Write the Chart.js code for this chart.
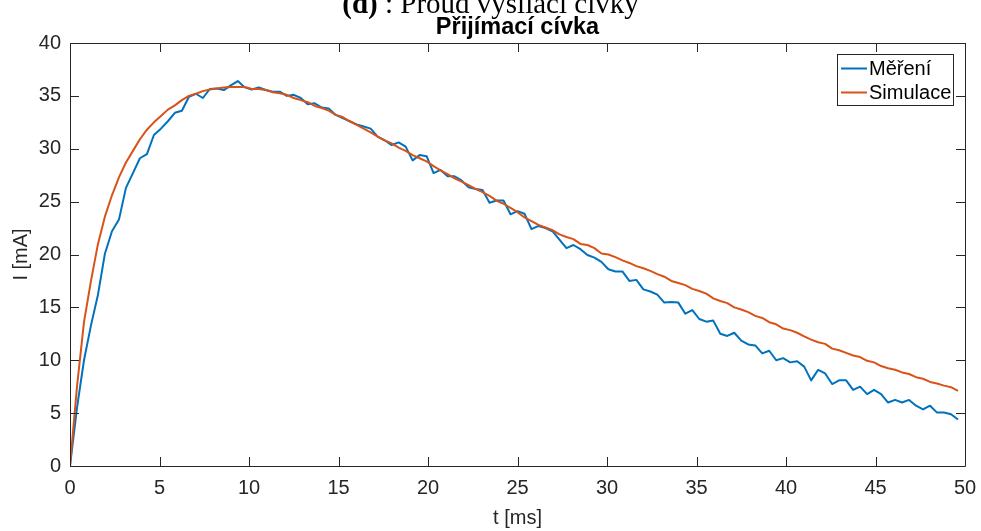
<!DOCTYPE html>
<html>
<head>
<meta charset="utf-8">
<script src="https://cdn.jsdelivr.net/npm/chart.js@4.4.1/dist/chart.umd.min.js"></script>
<style>
html,body{margin:0;padding:0;background:#ffffff;}
#wrap{width:981px;height:531px;position:relative;}
</style>
</head>
<body>
<div id="wrap"><canvas id="c" width="981" height="531"></canvas></div>
<script>
// ---- data ----
const figureTitleBold = '(d)';
const figureTitleRest = ' : Proud vysílací cívky';
const axesTitle = 'Přijímací cívka';
const xLabel = 't [ms]';
const yLabel = 'I [mA]';
const seriesNames = ['Měření', 'Simulace'];
const xTicks = [0, 5, 10, 15, 20, 25, 30, 35, 40, 45, 50];
const yTicks = [0, 5, 10, 15, 20, 25, 30, 35, 40];

const timeMs = [
  0, 0.3906, 0.7813, 1.1719, 1.5625, 1.9531, 2.3438, 2.7344, 3.125, 3.5156,
  3.9063, 4.2969, 4.6875, 5.0781, 5.4688, 5.8594, 6.25, 6.6406, 7.0313, 7.4219,
  7.8125, 8.2031, 8.5938, 8.9844, 9.375, 9.7656, 10.1563, 10.5469, 10.9375, 11.3281,
  11.7188, 12.1094, 12.5, 12.8906, 13.2813, 13.6719, 14.0625, 14.4531, 14.8438, 15.2344,
  15.625, 16.0156, 16.4063, 16.7969, 17.1875, 17.5781, 17.9688, 18.3594, 18.75, 19.1406,
  19.5313, 19.9219, 20.3125, 20.7031, 21.0938, 21.4844, 21.875, 22.2656, 22.6563, 23.0469,
  23.4375, 23.8281, 24.2188, 24.6094, 25.0, 25.3906, 25.7813, 26.1719, 26.5625, 26.9531,
  27.3438, 27.7344, 28.125, 28.5156, 28.9063, 29.2969, 29.6875, 30.0781, 30.4688, 30.8594,
  31.25, 31.6406, 32.0313, 32.4219, 32.8125, 33.2031, 33.5938, 33.9844, 34.375, 34.7656,
  35.1563, 35.5469, 35.9375, 36.3281, 36.7188, 37.1094, 37.5, 37.8906, 38.2813, 38.6719,
  39.0625, 39.4531, 39.8438, 40.2344, 40.625, 41.0156, 41.4063, 41.7969, 42.1875, 42.5781,
  42.9688, 43.3594, 43.75, 44.1406, 44.5313, 44.9219, 45.3125, 45.7031, 46.0938, 46.4844,
  46.875, 47.2656, 47.6563, 48.0469, 48.4375, 48.8281, 49.2188, 49.6094
];

const mereni = [
  0, 5.5, 10.0, 13.3, 16.2, 20.1, 22.2, 23.3, 26.3, 27.7,
  29.1, 29.5, 31.3, 31.9, 32.6, 33.4, 33.6, 34.9, 35.2, 34.8,
  35.65, 35.7, 35.55, 36.0, 36.4, 35.8, 35.6, 35.8, 35.55, 35.4,
  35.4, 35.0, 35.1, 34.8, 34.2, 34.3, 33.9, 33.8, 33.2, 32.9,
  32.6, 32.3, 32.1, 31.9, 31.15, 30.8, 30.35, 30.6, 30.2, 28.9,
  29.4, 29.3, 27.7, 28.0, 27.4, 27.4, 27.0, 26.35, 26.2, 26.1,
  24.9, 25.1, 25.1, 23.8, 24.1, 23.85, 22.4, 22.7, 22.5, 22.2,
  21.4, 20.6, 20.9, 20.5, 19.95, 19.7, 19.3, 18.6, 18.4, 18.4,
  17.5, 17.6, 16.7, 16.5, 16.2, 15.45, 15.5, 15.45, 14.4, 14.75,
  13.9, 13.65, 13.75, 12.5, 12.3, 12.6, 11.85, 11.5, 11.4, 10.65,
  10.9, 10.0, 10.2, 9.8, 9.9, 9.4, 8.1, 9.1, 8.75, 7.75,
  8.1, 8.1, 7.2, 7.5, 6.8, 7.2, 6.8, 6.0, 6.25, 6.0,
  6.25, 5.7, 5.35, 5.7, 5.05, 5.05, 4.9, 4.4
];

const simulace = [
  0, 7.5, 13.6, 17.5, 21.0, 23.6, 25.6, 27.3, 28.7, 29.8,
  30.9, 31.8, 32.5, 33.1, 33.7, 34.1, 34.6, 35.0, 35.2, 35.45,
  35.6, 35.7, 35.8, 35.85, 35.85, 35.85, 35.65, 35.65, 35.55, 35.35,
  35.25, 35.1, 34.8, 34.6, 34.4, 34.05, 33.85, 33.6, 33.2, 33.0,
  32.6, 32.25, 31.9, 31.55, 31.15, 30.8, 30.5, 30.1, 29.8, 29.4,
  29.1, 28.8, 28.35, 27.95, 27.6, 27.2, 26.9, 26.55, 26.2, 25.9,
  25.55, 25.1, 24.8, 24.4, 24.0, 23.5, 23.15, 22.8, 22.55, 22.3,
  21.9, 21.65, 21.45, 21.0, 20.9, 20.6, 20.1, 20.0, 19.75, 19.45,
  19.2, 18.9, 18.7, 18.45, 18.15, 17.9, 17.5, 17.3, 17.1, 16.75,
  16.55, 16.3, 15.85, 15.6, 15.4, 15.0, 14.8, 14.55, 14.2, 14.0,
  13.6, 13.4, 13.0, 12.85, 12.6, 12.25, 11.95, 11.7, 11.55, 11.1,
  10.95, 10.7, 10.45, 10.3, 9.95, 9.8, 9.45, 9.25, 9.1, 8.85,
  8.7, 8.4, 8.25, 7.95, 7.8, 7.6, 7.45, 7.1
];

// ---- styling ----
const AXIS_COLOR = '#262626';
const BLUE = '#0072BD';
const ORANGE = '#D95319';
const SANS = '"Liberation Sans", Arial, Helvetica, sans-serif';
const SERIF = '"Liberation Serif", "Times New Roman", serif';

const toPoints = (xs, ys) => xs.map((x, i) => ({ x: x, y: ys[i] }));

const decorPlugin = {
  id: 'decor',
  afterDraw(chart) {
    const ctx = chart.ctx;
    const a = chart.chartArea;
    const xs = chart.scales.x, ys = chart.scales.y;
    ctx.save();
    // axes box
    ctx.strokeStyle = AXIS_COLOR;
    ctx.lineWidth = 1;
    ctx.beginPath();
    ctx.rect(Math.round(a.left) + 0.5, Math.round(a.top) + 0.5,
             Math.round(a.right - a.left), Math.round(a.bottom - a.top));
    ctx.stroke();
    // inward ticks
    const TL = 9;
    ctx.beginPath();
    xTicks.forEach(v => {
      const px = Math.round(xs.getPixelForValue(v)) + 0.5;
      ctx.moveTo(px, a.bottom); ctx.lineTo(px, a.bottom - TL);
      ctx.moveTo(px, a.top); ctx.lineTo(px, a.top + TL);
    });
    yTicks.forEach(v => {
      const py = Math.round(ys.getPixelForValue(v)) + 0.5;
      ctx.moveTo(a.left, py); ctx.lineTo(a.left + TL, py);
      ctx.moveTo(a.right, py); ctx.lineTo(a.right - TL, py);
    });
    ctx.stroke();

    // figure title (clipped at the top of the image)
    ctx.fillStyle = '#000000';
    ctx.textBaseline = 'alphabetic';
    ctx.textAlign = 'left';
    ctx.font = 'bold 29px ' + SERIF;
    const wB = ctx.measureText(figureTitleBold).width;
    ctx.font = '29px ' + SERIF;
    const wR = ctx.measureText(figureTitleRest).width;
    const x0 = 490.5 - (wB + wR) / 2;
    ctx.font = 'bold 29px ' + SERIF;
    ctx.fillText(figureTitleBold, x0, 13);
    ctx.font = '29px ' + SERIF;
    ctx.fillText(figureTitleRest, x0 + wB, 13);

    // axes title
    ctx.font = 'bold 23.5px ' + SANS;
    ctx.textAlign = 'center';
    ctx.fillText(axesTitle, (a.left + a.right) / 2, 34);

    // axis labels
    ctx.fillStyle = AXIS_COLOR;
    ctx.font = '20px ' + SANS;
    ctx.textBaseline = 'middle';
    ctx.fillText(xLabel, (a.left + a.right) / 2, 518);
    ctx.save();
    ctx.translate(21, (a.top + a.bottom) / 2);
    ctx.rotate(-Math.PI / 2);
    ctx.fillText(yLabel, 0, 0);
    ctx.restore();

    // legend
    const bx = 837.5, by = 54.5, bw = 116, bh = 51;
    ctx.fillStyle = '#ffffff';
    ctx.fillRect(bx, by, bw, bh);
    ctx.strokeStyle = AXIS_COLOR;
    ctx.lineWidth = 1;
    ctx.strokeRect(bx, by, bw, bh);
    const colors = [BLUE, ORANGE];
    ctx.font = '20px ' + SANS;
    ctx.textAlign = 'left';
    ctx.textBaseline = 'middle';
    seriesNames.forEach((name, i) => {
      const ly = by + 14 + i * 24;
      ctx.strokeStyle = colors[i];
      ctx.lineWidth = 2;
      ctx.beginPath();
      ctx.moveTo(841, ly); ctx.lineTo(867, ly);
      ctx.stroke();
      ctx.fillStyle = '#000000';
      ctx.fillText(name, 869, ly + 1);
    });
    ctx.restore();
  }
};

new Chart(document.getElementById('c'), {
  type: 'scatter',
  data: {
    datasets: [
      {
        label: seriesNames[0],
        data: toPoints(timeMs, mereni),
        showLine: true,
        borderColor: BLUE,
        backgroundColor: BLUE,
        borderWidth: 2,
        pointRadius: 0,
        tension: 0,
        borderJoinStyle: 'round',
        order: 2
      },
      {
        label: seriesNames[1],
        data: toPoints(timeMs, simulace),
        showLine: true,
        borderColor: ORANGE,
        backgroundColor: ORANGE,
        borderWidth: 2,
        pointRadius: 0,
        tension: 0,
        borderJoinStyle: 'round',
        order: 1
      }
    ]
  },
  options: {
    responsive: false,
    animation: false,
    devicePixelRatio: 1,
    layout: { padding: { left: 0, right: 16, top: 43, bottom: 0 } },
    plugins: {
      legend: { display: false },
      tooltip: { enabled: false },
      title: { display: false }
    },
    scales: {
      x: {
        type: 'linear',
        min: 0, max: 50,
        afterBuildTicks: s => { s.ticks = xTicks.map(v => ({ value: v })); },
        afterFit: s => { s.height = 65; s.paddingLeft = 0; s.paddingRight = 0; },
        grid: { display: false, drawTicks: false },
        border: { display: false },
        ticks: { color: AXIS_COLOR, font: { family: SANS, size: 20 }, padding: 10, maxRotation: 0, autoSkip: false }
      },
      y: {
        type: 'linear',
        min: 0, max: 40,
        afterBuildTicks: s => { s.ticks = yTicks.map(v => ({ value: v })); },
        afterFit: s => { s.width = 70; s.paddingTop = 0; s.paddingBottom = 0; },
        grid: { display: false, drawTicks: false },
        border: { display: false },
        ticks: { color: AXIS_COLOR, font: { family: SANS, size: 20 }, padding: 9, autoSkip: false }
      }
    }
  },
  plugins: [decorPlugin]
});
</script>
</body>
</html>
